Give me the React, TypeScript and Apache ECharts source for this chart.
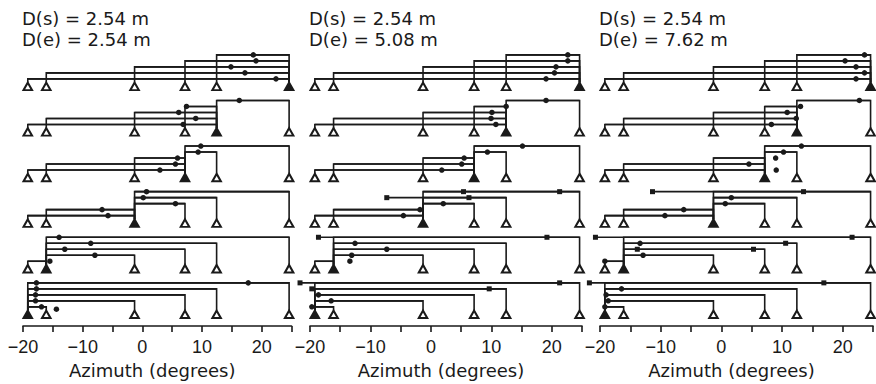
import React, { useEffect, useRef } from 'react';
import * as echarts from 'echarts';

// ---------- data ----------
const SPEAKERS = [-19.2, -16.1, -1.3, 7.15, 12.45, 24.6]; // loudspeaker azimuths (deg)
const ROW_SOURCES = [5, 4, 3, 2, 1, 0]; // source speaker index for each row (top to bottom)
const PANEL_DS = ['D(s) = 2.54 m', 'D(s) = 2.54 m', 'D(s) = 2.54 m'];
const PANEL_DE = ['D(e) = 2.54 m', 'D(e) = 5.08 m', 'D(e) = 7.62 m'];
const X_TICKS = [-20, -15, -10, -5, 0, 5, 10, 15, 20, 25];
const X_LABELED = [-20, -10, 0, 10, 20];
const AXIS_TITLE = 'Azimuth (degrees)';

// [row, line (0 = top line, targets in descending azimuth), response azimuth, 'c' circle | 's' square]
const P1_MARKS: [number, number, number, string][] = [
  [0, 0, 18.6, 'c'], [0, 1, 19.05, 'c'], [0, 2, 14.85, 'c'], [0, 3, 17.2, 'c'], [0, 4, 22.4, 'c'],
  [1, 0, 16.25, 'c'], [1, 1, 7.4, 'c'], [1, 2, 6.1, 'c'], [1, 3, 8.95, 'c'], [1, 4, 6.85, 'c'],
  [2, 0, 9.8, 'c'], [2, 1, 9.35, 'c'], [2, 2, 5.9, 'c'], [2, 3, 5.55, 'c'], [2, 4, 2.95, 'c'],
  [3, 0, 0.7, 'c'], [3, 1, 0.15, 'c'], [3, 2, 5.55, 'c'], [3, 3, -6.75, 'c'], [3, 4, -5.75, 'c'],
  [4, 0, -13.95, 'c'], [4, 1, -8.65, 'c'], [4, 2, -13.0, 'c'], [4, 3, -7.95, 'c'], [4, 4, -15.5, 'c'],
  [5, 0, -17.75, 'c'], [5, 0, 17.75, 'c'], [5, 1, -17.75, 'c'], [5, 2, -17.9, 'c'], [5, 3, -17.9, 'c'],
  [5, 4, -16.9, 'c'], [5, 4.4, -14.4, 'c'],
];
const P2_MARKS: [number, number, number, string][] = [
  [0, 0, 22.65, 'c'], [0, 1, 22.65, 'c'], [0, 2, 20.7, 'c'], [0, 3, 20.45, 'c'], [0, 4, 19.05, 'c'],
  [1, 0, 19.05, 'c'], [1, 1, 12.45, 'c'], [1, 2, 10.1, 'c'], [1, 3, 9.95, 'c'], [1, 4, 10.75, 'c'],
  [2, 0, 15.15, 'c'], [2, 1, 9.35, 'c'], [2, 2, 5.5, 'c'], [2, 3, 5.1, 'c'], [2, 4, 1.8, 'c'],
  [3, 0, 5.4, 's'], [3, 0, 21.3, 's'], [3, 1, -7.3, 's'], [3, 1, 6.3, 's'], [3, 2, 2.05, 'c'],
  [3, 3, -1.8, 'c'], [3, 4, -4.55, 'c'],
  [4, 0, -18.6, 's'], [4, 0, 19.2, 's'], [4, 1, -12.55, 'c'], [4, 2, -7.3, 'c'], [4, 3, -13.1, 'c'],
  [4, 4, -13.4, 'c'],
  [5, 0, -21.65, 's'], [5, 0, 21.3, 's'], [5, 1, -19.7, 's'], [5, 1, 9.65, 's'], [5, 2, -18.6, 'c'],
  [5, 3, -16.5, 'c'], [5, 4, -19.7, 'c'],
];
const P3_MARKS: [number, number, number, string][] = [
  [0, 0, 23.6, 'c'], [0, 1, 20.4, 'c'], [0, 2, 22.2, 'c'], [0, 3, 23.6, 'c'], [0, 4, 22.2, 'c'],
  [1, 0, 22.75, 'c'], [1, 1, 13.05, 'c'], [1, 2, 10.85, 'c'], [1, 3, 12.35, 'c'], [1, 4, 8.25, 'c'],
  [2, 0, 13.2, 'c'], [2, 1, 10.25, 'c'], [2, 2, 8.95, 'c'], [2, 3, 4.55, 'c'], [2, 4, 9.05, 'c'],
  [3, 0, -11.35, 's'], [3, 0, 13.55, 's'], [3, 1, 1.65, 'c'], [3, 2, 0.65, 'c'], [3, 3, -6.2, 'c'],
  [3, 4, -9.3, 'c'],
  [4, 0, -20.75, 's'], [4, 0, 21.55, 's'], [4, 1, -13.4, 'c'], [4, 1, 10.6, 's'], [4, 2, -13.85, 's'],
  [4, 2, 5.3, 's'], [4, 3, -12.9, 'c'], [4, 4, -19.2, 'c'],
  [5, 0, -21.75, 's'], [5, 0, 16.9, 's'], [5, 1, -16.45, 'c'], [5, 2, -19.0, 'c'], [5, 3, -18.65, 'c'],
  [5, 4, -19.2, 'c'],
];
const PANEL_MARKS = [P1_MARKS, P2_MARKS, P3_MARKS];

// ---------- layout ----------
const INK = '#1a1a1a';
const FONT = 'DejaVu Sans';
const GRID_LEFT = [23, 310, 600];
const GRID_WIDTH = [268.5, 272, 274];
const GRID_TOP = 48;
const GRID_HEIGHT = 283;
const Y_MIN = -7;
const Y_MAX = 276;
const ROW_PITCH = 46.4;
const LEVEL_GAP = 6.1;
const TRI_OFFSET = 32;
const TRI_HALF = 4;

const lineY = (row: number, line: number) => row * ROW_PITCH + line * LEVEL_GAP;
const triY = (row: number) => row * ROW_PITCH + TRI_OFFSET;

function buildPanel(p: number) {
  const marks = PANEL_MARKS[p];
  const brackets: number[][] = [];
  const openTri: number[][] = [];
  const fillTri: number[][] = [];
  ROW_SOURCES.forEach((si, row) => {
    const src = SPEAKERS[si];
    SPEAKERS.forEach((s, i) => (i === si ? fillTri : openTri).push([s, triY(row)]));
    const targets = SPEAKERS.filter((_, i) => i !== si).sort((a, b) => b - a);
    targets.forEach((tgt, line) => {
      let lo = Math.min(src, tgt);
      let hi = Math.max(src, tgt);
      marks.forEach(([r, l, x, sh]) => {
        if (r === row && l === line && sh === 's') {
          lo = Math.min(lo, x);
          hi = Math.max(hi, x);
        }
      });
      brackets.push([src, tgt, lineY(row, line), triY(row) - TRI_HALF, lo, hi]);
    });
  });
  const circles = marks.filter((m) => m[3] === 'c').map(([r, l, x]) => [x, lineY(r, l)]);
  const squares = marks.filter((m) => m[3] === 's').map(([r, l, x]) => [x, lineY(r, l)]);
  return { brackets, openTri, fillTri, circles, squares };
}

export default function App() {
  const ref = useRef<HTMLDivElement>(null);
  useEffect(() => {
    if (!ref.current) return;
    const chart = echarts.init(ref.current, undefined, { renderer: 'svg' });
    const grids: any[] = [];
    const xAxes: any[] = [];
    const yAxes: any[] = [];
    const series: any[] = [];
    const graphics: any[] = [];
    for (let p = 0; p < 3; p++) {
      grids.push({ left: GRID_LEFT[p], width: GRID_WIDTH[p], top: GRID_TOP, height: GRID_HEIGHT });
      xAxes.push({
        gridIndex: p,
        type: 'value',
        position: 'bottom',
        min: X_TICKS[0],
        max: X_TICKS[X_TICKS.length - 1],
        interval: 5,
        name: AXIS_TITLE,
        nameLocation: 'middle',
        nameGap: 31,
        nameTextStyle: { fontFamily: FONT, fontSize: 18, color: INK, padding: [0, 10, 0, 0] },
        axisLine: { onZero: false, lineStyle: { color: INK, width: 1.6 } },
        axisTick: { show: true, length: 6, lineStyle: { color: INK, width: 1.6 } },
        axisLabel: {
          fontFamily: 'Liberation Sans',
          fontSize: 18,
          color: INK,
          margin: 12,
          showMaxLabel: true,
          formatter: (v: number) =>
            X_LABELED.includes(v) ? (v < 0 ? '\u2212' + Math.abs(v) : String(v)) : '',
        },
        splitLine: { show: false },
      });
      yAxes.push({ gridIndex: p, type: 'value', min: Y_MIN, max: Y_MAX, inverse: true, show: false });
      const d = buildPanel(p);
      series.push({
        type: 'custom',
        xAxisIndex: p,
        yAxisIndex: p,
        clip: false,
        z: 2,
        data: d.brackets,
        renderItem: (_params: any, api: any) => {
          const src = api.value(0), tgt = api.value(1), ly = api.value(2), ay = api.value(3);
          const lo = api.value(4), hi = api.value(5);
          const a = api.coord([src, ay]);
          const b = api.coord([src, ly]);
          const c = api.coord([tgt, ly]);
          const e = api.coord([tgt, ay]);
          const f = api.coord([lo, ly]);
          const g = api.coord([hi, ly]);
          const style = { stroke: INK, lineWidth: 1.6, fill: null };
          return {
            type: 'group',
            children: [
              { type: 'polyline', shape: { points: [a, b, c, e] }, style },
              { type: 'line', shape: { x1: f[0], y1: f[1], x2: g[0], y2: g[1] }, style },
            ],
          };
        },
      });
      series.push({
        type: 'scatter', xAxisIndex: p, yAxisIndex: p, clip: false, z: 4,
        symbol: 'triangle', symbolSize: [8.5, 7.5], data: d.openTri,
        itemStyle: { color: '#fff', borderColor: INK, borderWidth: 2, opacity: 1 },
      });
      series.push({
        type: 'scatter', xAxisIndex: p, yAxisIndex: p, clip: false, z: 4,
        symbol: 'triangle', symbolSize: [8.5, 7.5], data: d.fillTri,
        itemStyle: { color: INK, borderColor: INK, borderWidth: 2, opacity: 1 },
      });
      series.push({
        type: 'scatter', xAxisIndex: p, yAxisIndex: p, clip: false, z: 5,
        symbol: 'circle', symbolSize: 5.5, data: d.circles,
        itemStyle: { color: INK, opacity: 1 },
      });
      series.push({
        type: 'scatter', xAxisIndex: p, yAxisIndex: p, clip: false, z: 5,
        symbol: 'rect', symbolSize: 5, data: d.squares,
        itemStyle: { color: INK, opacity: 1 },
      });
      graphics.push({
        type: 'text', left: GRID_LEFT[p] - 1, top: 9,
        style: { text: PANEL_DS[p], font: `18px "${FONT}"`, fill: INK },
      });
      graphics.push({
        type: 'text', left: GRID_LEFT[p] - 1, top: 30,
        style: { text: PANEL_DE[p], font: `18px "${FONT}"`, fill: INK },
      });
    }
    chart.setOption({
      animation: false,
      backgroundColor: '#fff',
      grid: grids,
      xAxis: xAxes,
      yAxis: yAxes,
      series,
      graphic: graphics,
    });
    return () => chart.dispose();
  }, []);
  return (
    <div
      ref={ref}
      style={{ position: 'fixed', left: 0, top: 0, width: 876, height: 384, background: '#fff' }}
    />
  );
}
